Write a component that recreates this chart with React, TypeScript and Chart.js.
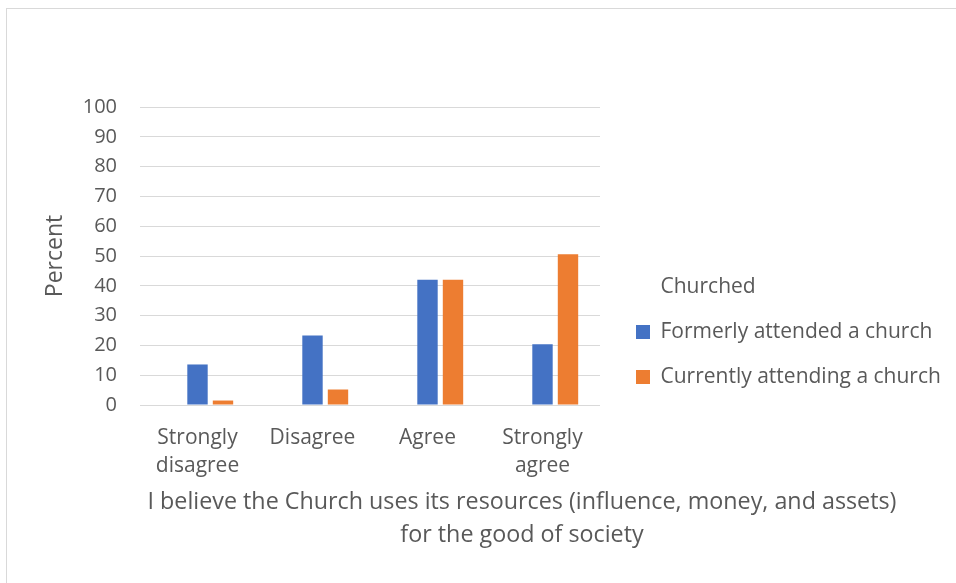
import React, { useEffect, useRef } from "react";
import { Chart, registerables } from "chart.js";

Chart.register(...registerables);

const categories: (string | string[])[] = [
  ["Strongly", "disagree"],
  "Disagree",
  "Agree",
  ["Strongly", "agree"],
];
const churchedHeader: (number | null)[] = [null, null, null, null];
const formerlyAttended: number[] = [13.6, 23.3, 42.0, 20.4];
const currentlyAttending: number[] = [1.5, 5.2, 42.0, 50.6];
const yTicks = { min: 0, max: 100, step: 10 };
const seriesNames = ["Churched", "Formerly attended a church", "Currently attending a church"];
const yTitle = "Percent";
const xTitleLines = [
  "I believe the Church uses its resources (influence, money, and assets)",
  "for the good of society",
];

const FONT = '"Open Sans", sans-serif';
const TEXT = "#595959";
const GRID = "#d9d9d9";
const BLUE = "#4472C4";
const ORANGE = "#ED7D31";

const W = 949;
const H = 574;
const LEGEND_W = 344;

export default function App() {
  const ref = useRef<HTMLCanvasElement | null>(null);

  useEffect(() => {
    const canvas = ref.current;
    if (!canvas) return;

    const legendWidthPlugin = {
      id: "legendWidth",
      afterInit(chart: any) {
        const lg = chart.legend;
        if (!lg) return;
        const orig = lg.fit.bind(lg);
        lg.fit = function () {
          orig();
          this.width = LEGEND_W;
        };
      },
    };

    const xTitlePlugin = {
      id: "xTitle",
      afterDraw(chart: any) {
        const ctx = chart.ctx;
        ctx.save();
        ctx.font = `23.3px ${FONT}`;
        ctx.fillStyle = TEXT;
        ctx.textAlign = "center";
        ctx.textBaseline = "alphabetic";
        ctx.fillText(xTitleLines[0], 515, 499.5);
        ctx.fillText(xTitleLines[1], 515, 532.5);
        ctx.restore();
      },
    };

    const chart = new Chart(canvas, {
      type: "bar",
      data: {
        labels: categories as any,
        datasets: [
          {
            label: seriesNames[0],
            data: churchedHeader as any,
            backgroundColor: "rgba(0,0,0,0)",
            borderWidth: 0,
          },
          {
            label: seriesNames[1],
            data: formerlyAttended,
            backgroundColor: BLUE,
            borderWidth: 0,
          },
          {
            label: seriesNames[2],
            data: currentlyAttending,
            backgroundColor: ORANGE,
            borderWidth: 0,
          },
        ],
      },
      options: {
        responsive: false,
        animation: false,
        datasets: {
          bar: { categoryPercentage: 0.665, barPercentage: 0.8 },
        },
        layout: { padding: { top: 98, bottom: 26, left: 0, right: 0 } },
        plugins: {
          tooltip: { enabled: false },
          legend: {
            position: "right",
            align: "center",
            labels: {
              color: TEXT,
              font: { family: FONT, size: 21 },
              boxWidth: 14,
              boxHeight: 14,
              padding: 24,
            },
          },
        },
        scales: {
          x: {
            grid: { display: false },
            border: { display: false },
            ticks: {
              color: TEXT,
              font: { family: FONT, size: 21, lineHeight: "28px" as any },
              padding: 11,
              maxRotation: 0,
              autoSkip: false,
            },
            afterFit(s: any) {
              s.height = 152;
            },
          },
          y: {
            min: yTicks.min,
            max: yTicks.max,
            grid: { color: GRID, lineWidth: 1, drawTicks: false },
            border: { display: false },
            ticks: {
              stepSize: yTicks.step,
              color: TEXT,
              font: { family: FONT, size: 20 },
              padding: 23,
            },
            title: {
              display: true,
              text: yTitle,
              color: TEXT,
              font: { family: FONT, size: 23 },
              padding: { top: 35, bottom: 0 },
            },
            afterFit(s: any) {
              s.width = 133;
            },
          },
          yR: {
            type: "linear",
            position: "right",
            display: true,
            grid: { display: false, drawTicks: false },
            border: { display: false },
            ticks: { display: false },
            afterFit(s: any) {
              s.width = 12;
            },
          },
        },
      },
      plugins: [legendWidthPlugin, xTitlePlugin],
    } as any);

    return () => chart.destroy();
  }, []);

  return (
    <div
      style={{
        position: "fixed",
        left: 6,
        top: 8,
        width: 950,
        height: 575,
        borderTop: `1px solid ${GRID}`,
        borderLeft: `1px solid ${GRID}`,
        boxSizing: "border-box",
        background: "#fff",
      }}
    >
      <canvas ref={ref} width={W} height={H} style={{ display: "block" }} />
    </div>
  );
}
